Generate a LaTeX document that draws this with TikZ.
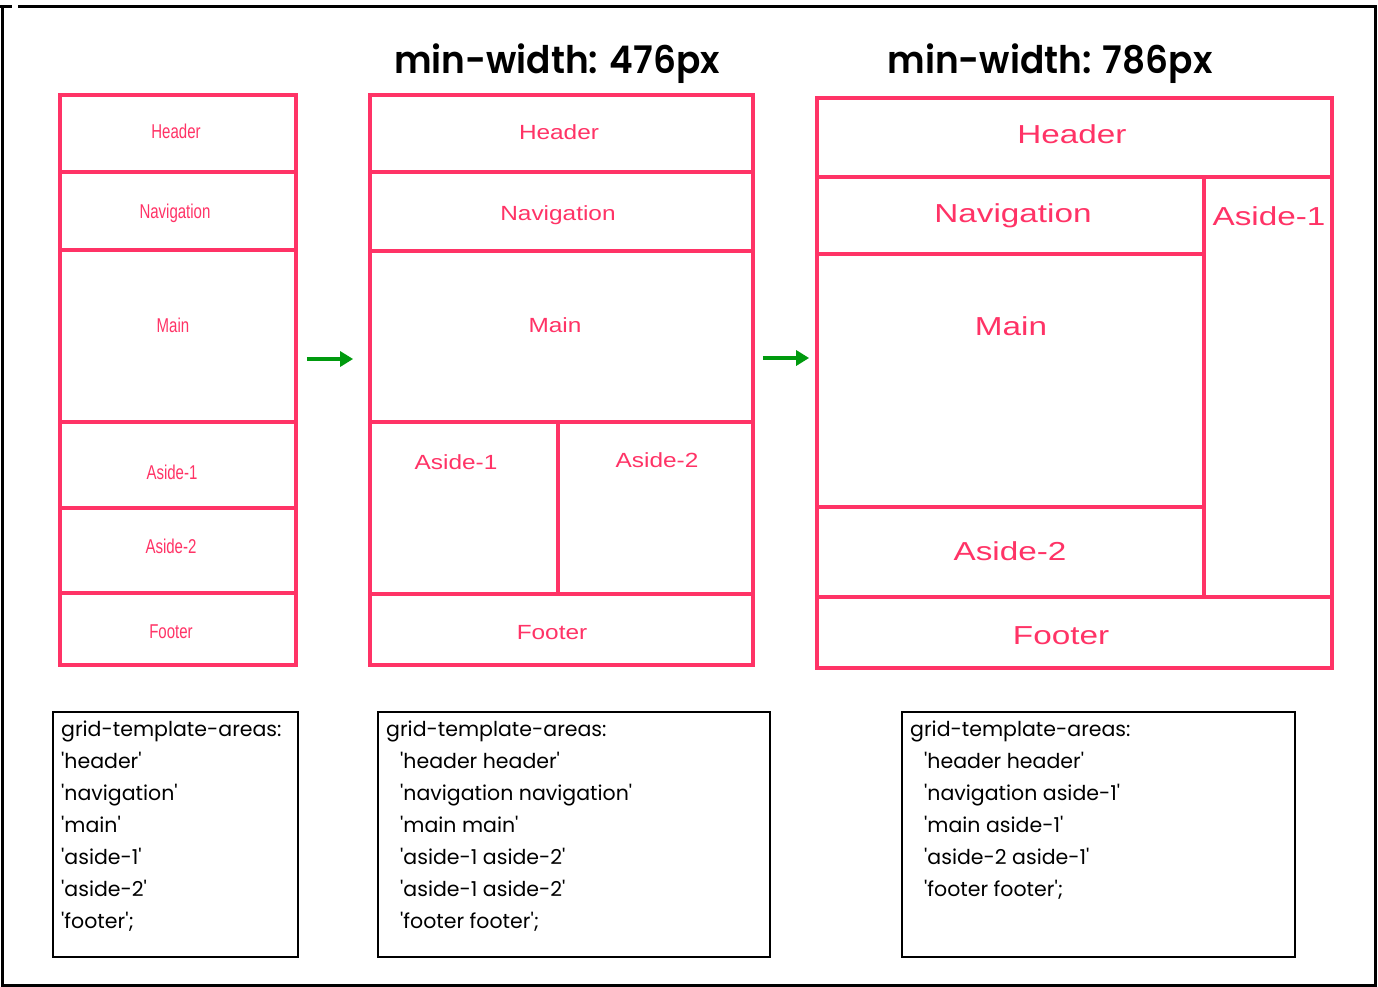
\documentclass[tikz,border=0pt]{standalone}
\usepackage{fontspec}
\setmainfont{Liberation Sans}
\newfontfamily\codefont{Poppins}
\newfontfamily\titlefont{Poppins}[UprightFont=* SemiBold]
\usetikzlibrary{arrows.meta}
\definecolor{gridpink}{HTML}{FF3366}
\definecolor{flowgreen}{HTML}{009A0E}
\newcommand\tq{\textquotesingle}
\tikzset{
  area/.style={draw=gridpink, line width=3.8pt, inner sep=0pt},
  cell/.style={draw=gridpink, line width=3.8pt},
  lblA/.style={text=gridpink, font=\fontsize{20}{22}\selectfont, xscale=0.75},
  lblB/.style={text=gridpink, font=\fontsize{20.5}{22}\selectfont, xscale=1.19},
  lblC/.style={text=gridpink, font=\fontsize{26}{28}\selectfont, xscale=1.28},
  flow/.style={draw=flowgreen, line width=3.8pt, -{Triangle[length=13pt,width=15pt]}},
  codebox/.style={draw=black, line width=2.4pt, inner sep=0pt},
  codeline/.style={anchor=base west, inner sep=0pt, font=\codefont\fontsize{20.5}{22}\selectfont},
  title/.style={anchor=base, xscale=0.945, font=\titlefont\fontsize{38}{40}\selectfont},
  frame/.style={draw=black, line width=3pt}
}
\begin{document}
\begin{tikzpicture}[x=1pt,y=-1pt]
\useasboundingbox (0,0) rectangle (1378,987);
\fill[white] (0,0) rectangle (1378,987);

% outer frame
\draw[frame] (0,7) -- (12,7);
\draw[frame] (18,7) -- (1375,7) -- (1375,985) -- (2,985) -- (2,7);

% titles
\node[title] (t476) at (557,74) {min-width: 476px};
\node[title] (t786) at (1050,74) {min-width: 786px};

% --- single column layout ---
\node[area, minimum width=236pt, minimum height=570pt] (c1) at (178,380) {};
\draw[cell] (60,172) -- (296,172);
\draw[cell] (60,250) -- (296,250);
\draw[cell] (60,422) -- (296,422);
\draw[cell] (60,508) -- (296,508);
\draw[cell] (60,593) -- (296,593);
\node[lblA] (c1h) at (176,131) {Header};
\node[lblA] (c1n) at (175,213) {Navigation};
\node[lblA] (c1m) at (173,325) {Main};
\node[lblA] (c1a) at (172,472) {Aside-1};
\node[lblA] (c1b) at (171,546) {Aside-2};
\node[lblA] (c1f) at (171,632) {Footer};

% --- two column layout ---
\node[area, minimum width=383pt, minimum height=570pt] (c2) at (561.5,380) {};
\draw[cell] (370,172) -- (753,172);
\draw[cell] (370,251) -- (753,251);
\draw[cell] (370,422) -- (753,422);
\draw[cell] (370,594) -- (753,594);
\draw[cell] (558,422) -- (558,594);
\node[lblB] (c2h) at (559,132) {Header};
\node[lblB] (c2n) at (558,215) {Navigation};
\node[lblB] (c2m) at (555,325) {Main};
\node[lblB] (c2a) at (456,462) {Aside-1};
\node[lblB] (c2b) at (657,460) {Aside-2};
\node[lblB] (c2f) at (552,633) {Footer};

% --- three column layout ---
\node[area, minimum width=515pt, minimum height=570pt] (c3) at (1074.5,383) {};
\draw[cell] (817,177) -- (1332,177);
\draw[cell] (817,597) -- (1332,597);
\draw[cell] (1204,177) -- (1204,597);
\draw[cell] (817,254) -- (1204,254);
\draw[cell] (817,507) -- (1204,507);
\node[lblC] (c3h) at (1072,134) {Header};
\node[lblC] (c3n) at (1013,216) {Navigation};
\node[lblC] (c3a) at (1269,216) {Aside-1};
\node[lblC] (c3m) at (1011,326) {Main};
\node[lblC] (c3b) at (1010,551) {Aside-2};
\node[lblC] (c3f) at (1061,636) {Footer};

% transitions between breakpoints
\coordinate (r1) at (0,359);
\coordinate (r2) at (0,358);
\draw[flow, shorten <=9pt, shorten >=15pt] (c1.east |- r1) -- (c2.west |- r1);
\draw[flow, shorten <=8pt, shorten >=6pt] (c2.east |- r2) -- (c3.west |- r2);

% --- grid-template-areas snippets ---
\node[codebox, minimum width=245pt, minimum height=245pt] (k1) at (175.5,834.5) {};
\node[codebox, minimum width=392pt, minimum height=245pt] (k2) at (574,834.5) {};
\node[codebox, minimum width=393pt, minimum height=245pt] (k3) at (1098.5,834.5) {};

\node[codeline] (k1l0) at (61,736) {grid-template-areas:};
\node[codeline] (k1l1) at (61,768) {\tq header\tq};
\node[codeline] (k1l2) at (61,800) {\tq navigation\tq};
\node[codeline] (k1l3) at (61,832) {\tq main\tq};
\node[codeline] (k1l4) at (61,864) {\tq aside-1\tq};
\node[codeline] (k1l5) at (61,896) {\tq aside-2\tq};
\node[codeline] (k1l6) at (61,928) {\tq footer\tq;};

\node[codeline] (k2l0) at (386,736) {grid-template-areas:};
\node[codeline] (k2l1) at (400,768) {\tq header header\tq};
\node[codeline] (k2l2) at (400,800) {\tq navigation navigation\tq};
\node[codeline] (k2l3) at (400,832) {\tq main main\tq};
\node[codeline] (k2l4) at (400,864) {\tq aside-1 aside-2\tq};
\node[codeline] (k2l5) at (400,896) {\tq aside-1 aside-2\tq};
\node[codeline] (k2l6) at (400,928) {\tq footer footer\tq;};

\node[codeline] (k3l0) at (910,736) {grid-template-areas:};
\node[codeline] (k3l1) at (924,768) {\tq header header\tq};
\node[codeline] (k3l2) at (924,800) {\tq navigation aside-1\tq};
\node[codeline] (k3l3) at (924,832) {\tq main aside-1\tq};
\node[codeline] (k3l4) at (924,864) {\tq aside-2 aside-1\tq};
\node[codeline] (k3l5) at (924,896) {\tq footer footer\tq;};
\end{tikzpicture}
\end{document}
